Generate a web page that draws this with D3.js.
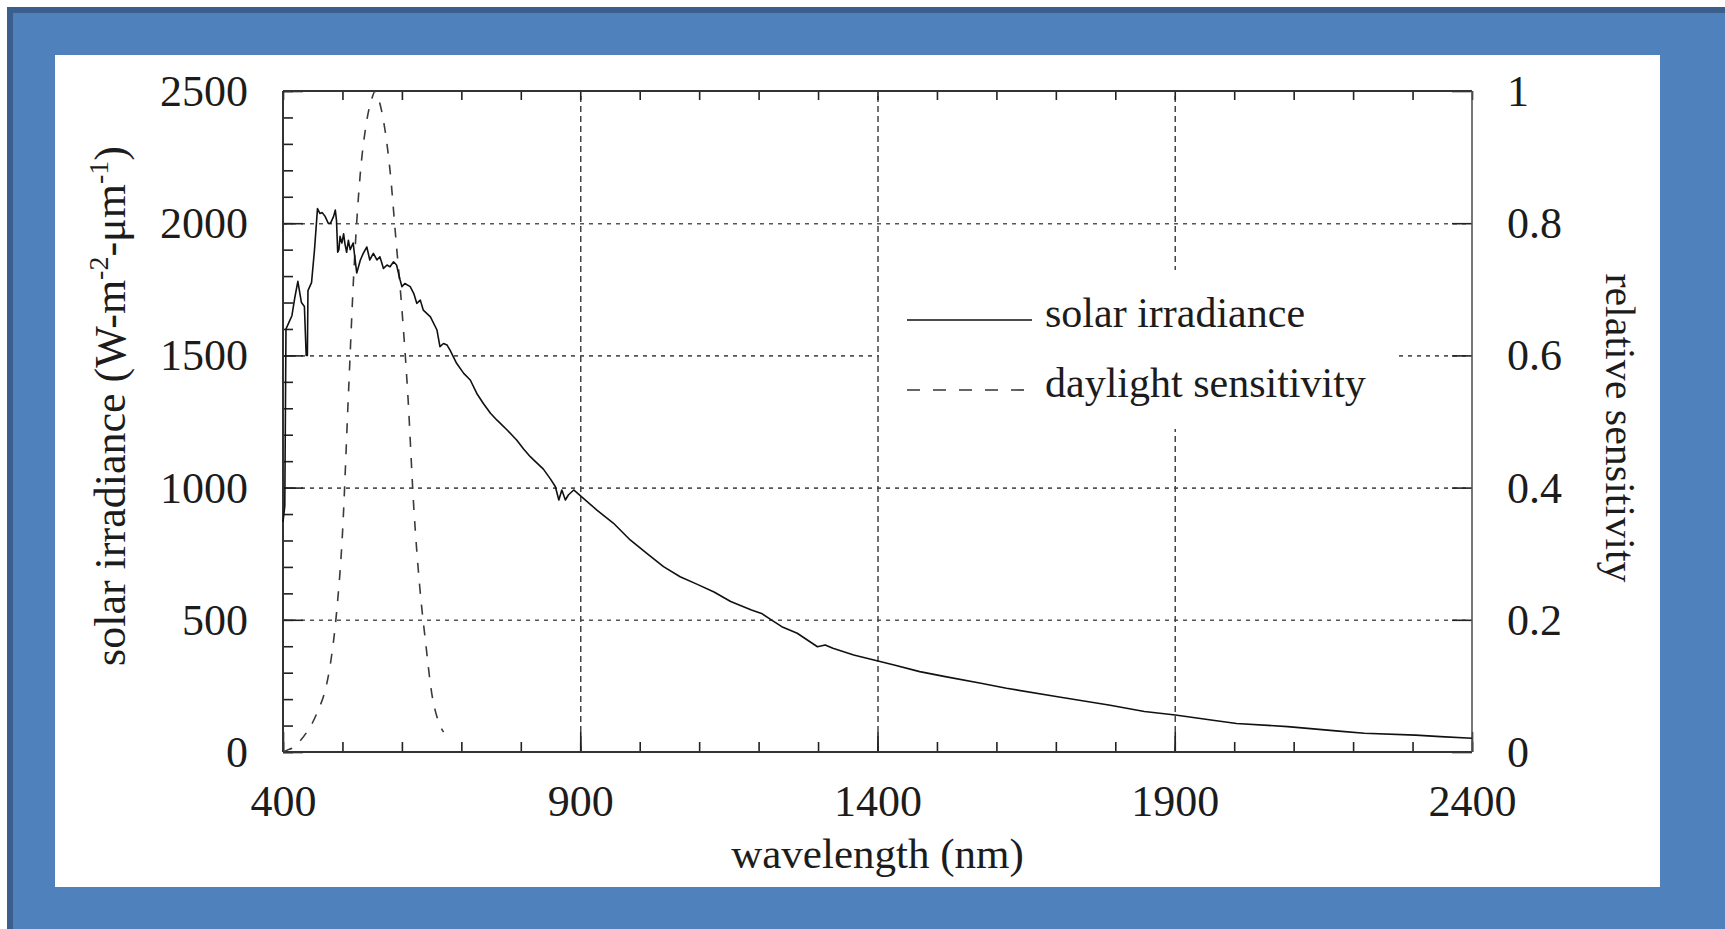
<!DOCTYPE html>
<html>
<head>
<meta charset="utf-8">
<script src="https://cdn.jsdelivr.net/npm/d3@7"></script>
<style>
  html, body { margin: 0; padding: 0; background: #ffffff; }
  svg { display: block; }
  text { font-family: "Liberation Serif", "Times New Roman", serif; fill: #1c1c1c; }
</style>
</head>
<body>
<svg id="chart" width="1725" height="929"></svg>
<script>
// ---------------- data ----------------
const irrNm = [400, 403, 405, 410, 415, 420, 425, 431, 436, 439, 441, 442, 448, 453, 458, 462, 466, 471, 476, 480, 485, 488, 490, 492, 494, 496, 499, 502, 504, 507, 510, 513, 518, 524, 527, 530, 535, 541, 546, 552, 558, 563, 569, 575, 580, 586, 591, 597, 600, 605, 614, 620, 625, 631, 636, 648, 659, 664, 670, 676, 681, 692, 704, 715, 726, 737, 749, 760, 777, 793, 805, 816, 822, 838, 850, 858, 864, 869, 875, 880, 889, 900, 928, 956, 984, 1012, 1040, 1068, 1097, 1125, 1153, 1188, 1205, 1222, 1239, 1265, 1299, 1312, 1325, 1360, 1394, 1428, 1471, 1514, 1574, 1617, 1703, 1789, 1849, 1901, 1961, 2004, 2090, 2176, 2219, 2305, 2347, 2400];
const irrVal = [870, 930, 1600, 1625, 1650, 1720, 1780, 1700, 1685, 1500, 1500, 1745, 1775, 1900, 2055, 2037, 2040, 2025, 2000, 2000, 2025, 2050, 2010, 1890, 1900, 1950, 1925, 1960, 1925, 1890, 1935, 1900, 1925, 1812, 1835, 1860, 1886, 1910, 1861, 1886, 1861, 1873, 1829, 1842, 1835, 1854, 1842, 1785, 1760, 1772, 1760, 1734, 1697, 1709, 1671, 1646, 1596, 1533, 1545, 1539, 1520, 1470, 1432, 1407, 1356, 1318, 1281, 1255, 1218, 1180, 1145, 1117, 1104, 1070, 1032, 1004, 953, 991, 953, 972, 991, 970, 915, 865, 802, 751, 701, 663, 634, 605, 569, 537, 524, 499, 474, 449, 398, 405, 392, 367, 348, 329, 304, 285, 260, 241, 209, 178, 153, 140, 121, 108, 96, 79, 71, 64, 58, 52];

const sensNm  = [400, 410, 420, 430, 440, 450, 460, 470, 480, 490, 500, 510, 520, 530, 540, 550, 555, 560, 570, 580, 590, 600, 610, 620, 630, 640, 650, 660, 670];
const sensVal = [0, 0.004, 0.008, 0.018, 0.03, 0.045, 0.065, 0.09, 0.135, 0.21, 0.33, 0.54, 0.74, 0.875, 0.95, 0.99, 1.0, 0.99, 0.95, 0.88, 0.775, 0.67, 0.54, 0.37, 0.25, 0.165, 0.09, 0.05, 0.03];

const xTicks = [400, 900, 1400, 1900, 2400];
const xTickLabels = ["400", "900", "1400", "1900", "2400"];
const yTicks = [0, 500, 1000, 1500, 2000, 2500];
const yTickLabels = ["0", "500", "1000", "1500", "2000", "2500"];
const y2Ticks = [0, 0.2, 0.4, 0.6, 0.8, 1];
const y2TickLabels = ["0", "0.2", "0.4", "0.6", "0.8", "1"];
const seriesNames = ["solar irradiance", "daylight sensitivity"];
const xTitle = "wavelength (nm)";
const y2Title = "relative sensitivity";

// ---------------- layout ----------------
const svg = d3.select("#chart");
const L = 283, R = 1472, T = 91, B = 752;

// background frame
svg.append("rect").attr("x", 7).attr("y", 7).attr("width", 1718).attr("height", 922).attr("fill", "#4f81bd");
svg.append("rect").attr("x", 7).attr("y", 7).attr("width", 1718).attr("height", 6).attr("fill", "#3a5f8c");
svg.append("rect").attr("x", 7).attr("y", 7).attr("width", 6).attr("height", 922).attr("fill", "#3a5f8c");
svg.append("rect").attr("x", 55).attr("y", 55).attr("width", 1605).attr("height", 832).attr("fill", "#ffffff");

const x = d3.scaleLinear().domain([400, 2400]).range([L, R]);
const y = d3.scaleLinear().domain([0, 2500]).range([B, T]);
const y2 = d3.scaleLinear().domain([0, 1]).range([B, T]);

const W = R - L, H = B - T;
const minorX = d3.range(400, 2401, 100);
const minorY = d3.range(0, 2501, 100);

function clean(g) { g.select(".domain").remove(); return g; }

// gridlines
const gridH = svg.append("g").attr("transform", `translate(${L},0)`)
  .call(d3.axisLeft(y).tickValues(yTicks.slice(1, 5)).tickSize(-W).tickFormat(""));
clean(gridH).selectAll("line").attr("stroke", "#555").attr("stroke-width", 1.6).attr("stroke-dasharray", "4,5");
const gridV = svg.append("g").attr("transform", `translate(0,${B})`)
  .call(d3.axisBottom(x).tickValues(xTicks.slice(1, 4)).tickSize(-H).tickFormat(""));
clean(gridV).selectAll("line").attr("stroke", "#444").attr("stroke-width", 1.5).attr("stroke-dasharray", "6,4");

// legend box (covers gridlines)
svg.append("rect").attr("x", 879).attr("y", 270).attr("width", 518).attr("height", 159).attr("fill", "#ffffff");

// ticks
const tickStyle = sel => sel.selectAll("line").attr("stroke", "#222").attr("stroke-width", 1.6);
clean(svg.append("g").attr("transform", `translate(0,${B})`).call(d3.axisBottom(x).tickValues(minorX).tickSize(-10).tickFormat(""))).call(tickStyle);
clean(svg.append("g").attr("transform", `translate(0,${B})`).call(d3.axisBottom(x).tickValues(xTicks).tickSize(-20).tickFormat(""))).call(tickStyle);
clean(svg.append("g").attr("transform", `translate(0,${T})`).call(d3.axisTop(x).tickValues(minorX).tickSize(-9).tickFormat(""))).call(tickStyle);
clean(svg.append("g").attr("transform", `translate(${L},0)`).call(d3.axisLeft(y).tickValues(minorY).tickSize(-10).tickFormat(""))).call(tickStyle);
clean(svg.append("g").attr("transform", `translate(${L},0)`).call(d3.axisLeft(y).tickValues(yTicks).tickSize(-20).tickFormat(""))).call(tickStyle);
clean(svg.append("g").attr("transform", `translate(${R},0)`).call(d3.axisRight(y2).tickValues(y2Ticks).tickSize(-20).tickFormat(""))).call(tickStyle);

// tick labels
const xl = clean(svg.append("g").attr("transform", `translate(0,${B})`)
  .call(d3.axisBottom(x).tickValues(xTicks).tickSize(0).tickFormat((d, i) => xTickLabels[i])));
xl.selectAll("text").attr("y", 64).attr("dy", 0).attr("font-size", 44).style("font-family", "Liberation Serif");
const yl = clean(svg.append("g").attr("transform", `translate(${L},0)`)
  .call(d3.axisLeft(y).tickValues(yTicks).tickSize(0).tickPadding(35).tickFormat((d, i) => yTickLabels[i])));
yl.selectAll("text").attr("font-size", 44).attr("dy", "0.33em").style("font-family", "Liberation Serif");
const y2l = clean(svg.append("g").attr("transform", `translate(${R},0)`)
  .call(d3.axisRight(y2).tickValues(y2Ticks).tickSize(0).tickPadding(35).tickFormat((d, i) => y2TickLabels[i])));
y2l.selectAll("text").attr("font-size", 44).attr("dy", "0.33em").style("font-family", "Liberation Serif");
svg.selectAll(".tick text").attr("fill", "#1c1c1c");

// plot frame
svg.append("line").attr("x1", L).attr("x2", R).attr("y1", T).attr("y2", T).attr("stroke", "#333").attr("stroke-width", 2);
svg.append("line").attr("x1", L).attr("x2", R).attr("y1", B).attr("y2", B).attr("stroke", "#333").attr("stroke-width", 2);
svg.append("line").attr("x1", L).attr("x2", L).attr("y1", T).attr("y2", B).attr("stroke", "#333").attr("stroke-width", 2);
svg.append("line").attr("x1", R).attr("x2", R).attr("y1", T).attr("y2", B).attr("stroke", "#555").attr("stroke-width", 1.6);

// series
const irr = irrNm.map((n, i) => [n, irrVal[i]]);
const sens = sensNm.map((n, i) => [n, sensVal[i]]);
svg.append("path").datum(sens)
  .attr("d", d3.line().x(d => x(d[0])).y(d => y2(d[1])).curve(d3.curveMonotoneX))
  .attr("fill", "none").attr("stroke", "#3a3a3a").attr("stroke-width", 1.6).attr("stroke-dasharray", "10,11");
svg.append("path").datum(irr)
  .attr("d", d3.line().x(d => x(d[0])).y(d => y(d[1])))
  .attr("fill", "none").attr("stroke", "#111").attr("stroke-width", 1.6).attr("stroke-linejoin", "round");

// legend
svg.append("line").attr("x1", 907).attr("x2", 1032).attr("y1", 320).attr("y2", 320).attr("stroke", "#111").attr("stroke-width", 1.6);
svg.append("line").attr("x1", 907).attr("x2", 1032).attr("y1", 390).attr("y2", 390).attr("stroke", "#333").attr("stroke-width", 1.6).attr("stroke-dasharray", "13,13");
svg.append("text").attr("x", 1045).attr("y", 327).attr("font-size", 42).text(seriesNames[0]);
svg.append("text").attr("x", 1045).attr("y", 397).attr("font-size", 42).text(seriesNames[1]);

// axis titles
svg.append("text").attr("x", (L + R) / 2).attr("y", 868).attr("text-anchor", "middle").attr("font-size", 43).text(xTitle);
const yt = svg.append("text").attr("transform", "translate(125,406) rotate(-90)").attr("text-anchor", "middle").attr("font-size", 44);
yt.append("tspan").text("solar irradiance (W-m");
yt.append("tspan").attr("font-size", 28).attr("dy", -17).text("-2");
yt.append("tspan").attr("dy", 17).text("-\u03bcm");
yt.append("tspan").attr("font-size", 28).attr("dy", -17).text("-1");
yt.append("tspan").attr("dy", 17).text(")");
svg.append("text").attr("transform", "translate(1606,428) rotate(90)").attr("text-anchor", "middle").attr("font-size", 42).text(y2Title);
</script>
</body>
</html>
